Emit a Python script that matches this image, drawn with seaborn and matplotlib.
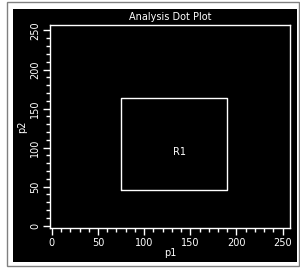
import matplotlib
matplotlib.use('Agg')
import matplotlib.pyplot as plt
import matplotlib.patches as mpatches
from matplotlib.ticker import MultipleLocator
import pandas as pd
import seaborn as sns

# Gate R1 vertices (closed polygon) in data units
gate_x = [75, 190, 190, 75, 75]
gate_y = [46, 46, 163, 163, 46]
gate_name = 'R1'
gate_label_pos = (138, 94)

x_ticks = [0, 50, 100, 150, 200, 250]
y_ticks = [0, 50, 100, 150, 200, 250]

sns.set_theme(style='ticks')
plt.rcParams['font.family'] = ['DejaVu Sans']

fig = plt.figure(figsize=(3.0, 2.68), dpi=100, facecolor='white')

# outer frame and black panel (behind the axes)
fig.patches.append(mpatches.Rectangle((7 / 300, 2 / 268), 292 / 300, 264 / 268, transform=fig.transFigure,
                                      fill=False, edgecolor='#808080', linewidth=1.0, zorder=-10))
fig.patches.append(mpatches.Rectangle((13 / 300, 6 / 268), 284 / 300, 253 / 268, transform=fig.transFigure,
                                      facecolor='black', edgecolor='none', zorder=-9))

ax = fig.add_axes([50 / 300, 40 / 268, 240 / 300, 203 / 268])
ax.set_facecolor('black')

df_gate = pd.DataFrame({'p1': gate_x, 'p2': gate_y})
sns.lineplot(data=df_gate, x='p1', y='p2', sort=False, estimator=None, color='white', linewidth=1.0, ax=ax)
ax.text(gate_label_pos[0], gate_label_pos[1], gate_name, color='white', fontsize=7, ha='center', va='center')

ax.set_xlim(-2, 258)
ax.set_ylim(-3, 257)
ax.set_xticks(x_ticks)
ax.set_yticks(y_ticks)
ax.xaxis.set_minor_locator(MultipleLocator(10))
ax.yaxis.set_minor_locator(MultipleLocator(10))
for s in ax.spines.values():
    s.set_color('white')
    s.set_linewidth(1.0)
ax.tick_params(which='both', colors='white', direction='out', labelsize=7, width=1.0)
ax.tick_params(which='major', length=5, pad=2)
ax.tick_params(which='minor', length=3)
plt.setp(ax.get_yticklabels(), rotation=90, va='center')

ax.set_title('Analysis Dot Plot', color='white', fontsize=7, pad=3.5)
ax.set_xlabel('p1', color='white', fontsize=7, labelpad=0)
ax.set_ylabel('p2', color='white', fontsize=7, labelpad=2)

fig.savefig('out.png', dpi=100, facecolor='white')
